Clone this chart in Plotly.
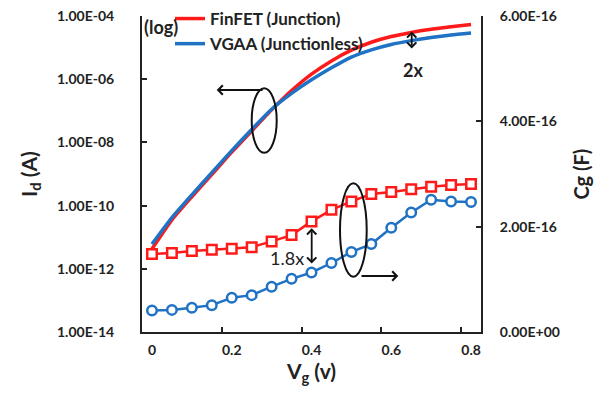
import plotly.graph_objects as go

# ---------------- data ----------------
vg = [0.00, 0.05, 0.10, 0.15, 0.20, 0.25, 0.30, 0.35, 0.40,
      0.45, 0.50, 0.55, 0.60, 0.65, 0.70, 0.75, 0.80]

# drain current (A)
id_finfet = [4.27e-12, 3.55e-11, 1.91e-10, 9.55e-10, 4.90e-09, 2.29e-08, 1.07e-07, 4.37e-07, 1.45e-06,
             3.80e-06, 8.32e-06, 1.48e-05, 2.24e-05, 3.02e-05, 3.80e-05, 4.57e-05, 5.37e-05]
id_vgaa = [6.03e-12, 4.17e-11, 2.19e-10, 1.10e-09, 5.50e-09, 2.57e-08, 1.12e-07, 3.55e-07, 9.55e-07,
           2.29e-06, 5.01e-06, 8.51e-06, 1.26e-05, 1.66e-05, 2.09e-05, 2.51e-05, 2.88e-05]

# gate capacitance (F)
cg_finfet = [1.48e-16, 1.50e-16, 1.54e-16, 1.56e-16, 1.58e-16, 1.61e-16, 1.72e-16, 1.84e-16, 2.10e-16,
             2.32e-16, 2.48e-16, 2.62e-16, 2.66e-16, 2.71e-16, 2.76e-16, 2.79e-16, 2.81e-16]
cg_vgaa = [0.41e-16, 0.42e-16, 0.46e-16, 0.51e-16, 0.65e-16, 0.70e-16, 0.86e-16, 1.01e-16, 1.13e-16,
           1.31e-16, 1.52e-16, 1.67e-16, 1.98e-16, 2.27e-16, 2.51e-16, 2.48e-16, 2.47e-16]

x_tick_vals = [-0.025, 0.175, 0.375, 0.575, 0.775]
x_tick_text = ["0", "0.2", "0.4", "0.6", "0.8"]
id_tick_vals = [1e-14, 1e-12, 1e-10, 1e-08, 1e-06, 1e-04]
id_tick_text = ["1.00E-14", "1.00E-12", "1.00E-10", "1.00E-08", "1.00E-06", "1.00E-04"]
cg_tick_vals = [0, 2e-16, 4e-16, 6e-16]
cg_tick_text = ["0.00E+00", "2.00E-16", "4.00E-16", "6.00E-16"]

RED = "#FF1A1A"
BLUE = "#1F72C4"
FONT = "Lato"

fig = go.Figure()

fig.add_trace(go.Scatter(x=vg, y=id_finfet, mode="lines", name="FinFET (Junction)",
                         line=dict(color=RED, width=3.5, shape="spline", smoothing=0.5),
                         legendgroup="a"))
fig.add_trace(go.Scatter(x=vg, y=id_vgaa, mode="lines", name="VGAA (Junctionless)",
                         line=dict(color=BLUE, width=3.5, shape="spline", smoothing=0.5),
                         legendgroup="b"))
fig.add_trace(go.Scatter(x=vg, y=cg_finfet, mode="lines+markers", yaxis="y2", showlegend=False,
                         line=dict(color=RED, width=2.5),
                         marker=dict(symbol="square", size=9.5, color="white",
                                     line=dict(color=RED, width=2.5))))
fig.add_trace(go.Scatter(x=vg, y=cg_vgaa, mode="lines+markers", yaxis="y2", showlegend=False,
                         line=dict(color=BLUE, width=2.5),
                         marker=dict(symbol="circle", size=9.5, color="white",
                                     line=dict(color=BLUE, width=2.5))))

# page has an 8px body margin; figure is drawn from page (8, 8)
OFF = 8
PLOT_L, PLOT_R, PLOT_T, PLOT_B = 142, 481, 16, 332   # plot area in page pixels
FW, FH = 605 - OFF, 397 - OFF
ML, MT = PLOT_L - OFF, PLOT_T - OFF
MR, MB = FW - (PLOT_R - OFF), FH - (PLOT_B - OFF)
PW, PH = PLOT_R - PLOT_L, PLOT_B - PLOT_T


def px(xp):
    return (xp - PLOT_L) / PW


def py(yp):
    return (PLOT_B - yp) / PH


tickfont = dict(family=FONT, size=14, color="#222", weight="bold")
axcommon = dict(showgrid=False, zeroline=False, showline=True, linecolor="#222", linewidth=2,
                ticks="inside", ticklen=5, tickwidth=2, tickcolor="#222", tickfont=tickfont,
                automargin=False, ticklabeloverflow="allow")

fig.update_layout(
    width=FW, height=FH,
    margin=dict(l=ML, r=MR, t=MT, b=MB, autoexpand=False),
    paper_bgcolor="white", plot_bgcolor="white",
    showlegend=True,
    legend=dict(x=px(170), y=py(1), xanchor="left", yanchor="top",
                bgcolor="rgba(0,0,0,0)", tracegroupgap=0,
                font=dict(family=FONT, size=17, color="#222", weight="bold"),
                itemwidth=30),
    xaxis=dict(range=[-0.025, 0.825], tickvals=x_tick_vals, ticktext=x_tick_text,
               ticklabelshift=10, ticklabelstandoff=4,
               title=dict(text="V<sub>g</sub> (v)", standoff=4,
                          font=dict(family=FONT, size=21, color="#222", weight="bold")),
               **axcommon),
    yaxis=dict(type="log", range=[-14, -4], tickvals=id_tick_vals, ticktext=id_tick_text,
               ticklabelstandoff=23,
               title=dict(text="I<sub>d</sub> (A)", standoff=14,
                          font=dict(family=FONT, size=21, color="#222", weight="bold")),
               **axcommon),
    yaxis2=dict(overlaying="y", side="right", range=[0, 6e-16], tickvals=cg_tick_vals,
                ticktext=cg_tick_text, ticklabelstandoff=14,
                title=dict(text="Cg (F)", standoff=16,
                           font=dict(family=FONT, size=20, color="#222", weight="bold")),
                **axcommon),
)

ann_font = dict(family=FONT, size=18, color="#222")
txt = dict(xref="paper", yref="paper", showarrow=False, xanchor="center", yanchor="middle")
fig.add_annotation(x=px(161), y=py(27), text="(log)", font=dict(ann_font, weight="bold"), **txt)
fig.add_annotation(x=px(413), y=py(70), text="2x", font=dict(ann_font, weight="bold"), **txt)
fig.add_annotation(x=px(287), y=py(258), text="1.8x", font=ann_font, **txt)

arrow = dict(xref="paper", yref="paper", text="", showarrow=True, arrowcolor="#111",
             arrowwidth=1.8, arrowsize=1, arrowhead=4)
# double arrows
fig.add_annotation(x=px(411.7), y=py(31.5), ax=0, ay=18.5, arrowside="end+start",
                   startarrowhead=4, **arrow)
fig.add_annotation(x=px(311.7), y=py(228.3), ax=0, ay=36.7, arrowside="end+start",
                   startarrowhead=4, **arrow)
# pointer arrows from ellipses
fig.add_annotation(x=px(216.7), y=py(90), ax=47.3, ay=0, **arrow)
fig.add_annotation(x=px(398.3), y=py(276), ax=-38.3, ay=0, **arrow)

# ellipses
fig.add_shape(type="circle", xref="paper", yref="paper",
              x0=px(251.7), x1=px(276.7), y0=py(152.7), y1=py(88.3),
              line=dict(color="#111", width=2))
fig.add_shape(type="circle", xref="paper", yref="paper",
              x0=px(340), x1=px(366.7), y0=py(276.7), y1=py(183.3),
              line=dict(color="#111", width=2))

fig.write_html("out.html")
